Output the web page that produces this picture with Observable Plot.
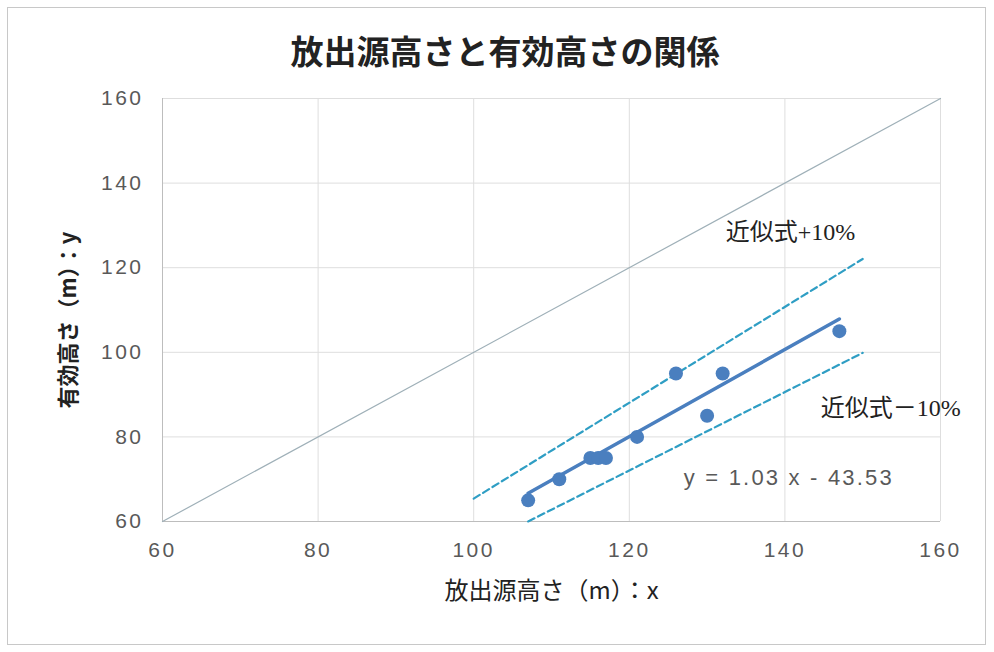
<!DOCTYPE html>
<html>
<head>
<meta charset="utf-8">
<script src="https://cdn.jsdelivr.net/npm/d3@7"></script>
<script src="https://cdn.jsdelivr.net/npm/@observablehq/plot@0.6"></script>
<style>
  html, body { margin: 0; padding: 0; background: #fff; }
  #page { position: relative; width: 994px; height: 652px; overflow: hidden; background: #fff; }
  #border { position: absolute; left: 7px; top: 7px; width: 979px; height: 638px; border: 1px solid #c8c8c8; box-sizing: border-box; }
  #title { position: absolute; left: 8px; top: 34px; width: 994px; text-align: center;
           font-family: "Noto Sans CJK JP", sans-serif; font-weight: bold; font-size: 33px; line-height: 1; color: #222; }
  #chart { position: absolute; left: 0; top: 0; }
</style>
</head>
<body>
<div id="page">
  <div id="border"></div>
  <div id="chart"></div>
  <div id="title"></div>
</div>
<script>
// ---- data ----
const titleText = "放出源高さと有効高さの関係";
const xLabel = "放出源高さ（m）：x";
const yLabel = "有効高さ（m）：y";
const sourceHeight = [107, 111, 115, 116, 117, 121, 126, 130, 132, 147];   // x
const effectiveHeight = [65, 70, 75, 75, 75, 80, 95, 85, 95, 105];         // y
const slope = 1.03;
const intercept = -43.53;
const fitRange = [107, 147];
const upperRange = [100, 150];
const lowerRange = [107, 150];
const identityRange = [60, 160];
const tickValues = [60, 80, 100, 120, 140, 160];
const upperLabel = "近似式+10%";
const lowerLabel = "近似式－10%";
const eqLabel = `y = ${slope.toFixed(2)} x - ${Math.abs(intercept).toFixed(2)}`;

const points = sourceHeight.map((x, i) => ({x, y: effectiveHeight[i]}));
const fit = x => slope * x + intercept;

const W = 994, H = 640;
const cjk = "'Noto Sans CJK JP', sans-serif";
const serifMix = "'Liberation Serif', 'Noto Sans CJK JP', serif";
const sans = "'Liberation Sans', Arial, sans-serif";

const chart = Plot.plot({
  width: W,
  height: H,
  marginLeft: 162,
  marginRight: 54,
  marginTop: 98,
  marginBottom: H - 521,
  style: {fontFamily: sans, background: "transparent", overflow: "visible"},
  x: {domain: [60, 160], ticks: tickValues},
  y: {domain: [60, 160], ticks: tickValues},
  marks: [
    Plot.gridX(tickValues, {stroke: "#dedede", strokeOpacity: 1, strokeWidth: 1}),
    Plot.gridY(tickValues, {stroke: "#dedede", strokeOpacity: 1, strokeWidth: 1}),
    Plot.ruleX([60], {stroke: "#bdbdbd"}),
    Plot.ruleY([60], {stroke: "#bdbdbd"}),
    Plot.axisX(tickValues, {tickSize: 0, tickPadding: 21, fontSize: 21, fill: "#595959", label: null}),
    Plot.axisY(tickValues, {tickSize: 0, tickPadding: 19, fontSize: 21, fill: "#595959", label: null}),
    // identity line y = x
    Plot.line(identityRange, {x: d => d, y: d => d, stroke: "#9fb0b8", strokeWidth: 1.2}),
    // +/-10% dashed lines
    Plot.line(upperRange, {x: d => d, y: d => 1.1 * fit(d), stroke: "#2f9ec4", strokeWidth: 2.2, strokeDasharray: "7,4"}),
    Plot.line(lowerRange, {x: d => d, y: d => 0.9 * fit(d), stroke: "#2f9ec4", strokeWidth: 2.2, strokeDasharray: "7,4"}),
    // regression line
    Plot.line(fitRange, {x: d => d, y: d => fit(d), stroke: "#4a7fbf", strokeWidth: 3.5}),
    // points
    Plot.dot(points, {x: "x", y: "y", r: 7, fill: "#4a7fbf", stroke: "none"}),
    // annotations
    Plot.text([upperLabel], {x: 132.4, y: 128.3, text: d => d, textAnchor: "start", fontSize: 24, fill: "#222", fontFamily: serifMix}),
    Plot.text([lowerLabel], {x: 144.6, y: 86.7, text: d => d, textAnchor: "start", fontSize: 24, fill: "#222", fontFamily: serifMix}),
    Plot.text([eqLabel], {x: 127.0, y: 70.2, text: d => d, textAnchor: "start", fontSize: 22, fill: "#595959", fontFamily: sans}),
    // axis titles
    Plot.text([xLabel], {frameAnchor: "bottom", text: d => d, dy: 77, fontSize: 24, fill: "#222", fontFamily: cjk}),
    Plot.text([yLabel], {frameAnchor: "left", textAnchor: "middle", text: d => d, dx: -94, dy: 10, rotate: -90, fontSize: 22, fontWeight: "bold", fill: "#222", fontFamily: cjk})
  ]
});
d3.select(chart).selectAll("g[aria-label='x-axis tick label'] text, g[aria-label='y-axis tick label'] text")
  .style("letter-spacing", "2.5px");
d3.select(chart).selectAll("text").filter(function() { return this.textContent === eqLabel; })
  .style("letter-spacing", "2.2px");
document.getElementById("chart").appendChild(chart);
document.getElementById("title").textContent = titleText;
</script>
</body>
</html>
